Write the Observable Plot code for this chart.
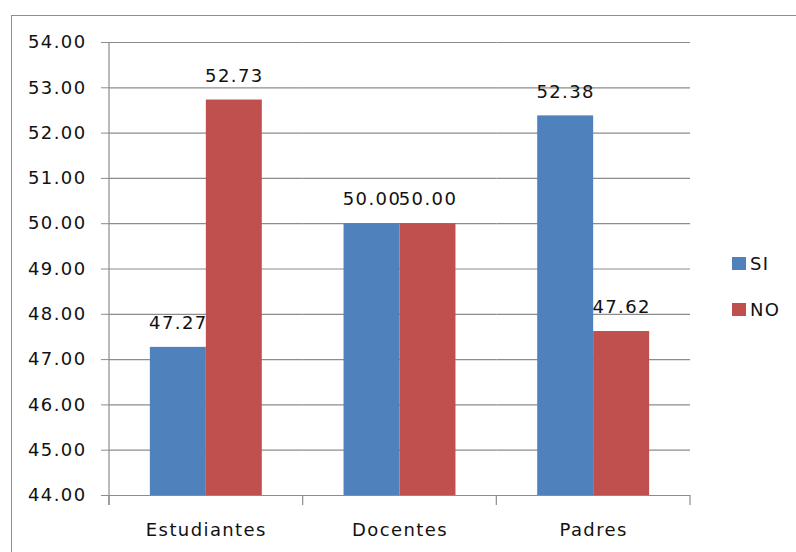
<!DOCTYPE html>
<html>
<head>
<meta charset="utf-8">
<script src="https://cdn.jsdelivr.net/npm/d3@7"></script>
<script src="https://cdn.jsdelivr.net/npm/@observablehq/plot@0.6"></script>
<style>
  html, body { margin: 0; padding: 0; width: 796px; height: 552px; overflow: hidden; background: #fff; }
  #frame { position: absolute; left: 11px; top: 15px; width: 900px; height: 700px; border: 1px solid #8e8e8e; box-sizing: border-box; }
  #chart { position: absolute; left: 0; top: 0; }
  #chart svg text { letter-spacing: 1.4px; }
  .leg { position: absolute; font-family: "DejaVu Sans", sans-serif; font-size: 18px; color: #111; letter-spacing: 1.4px; display: flex; align-items: center; }
  .leg span.sw { display: inline-block; width: 14px; height: 13px; margin-right: 4px; }
</style>
</head>
<body>
<div id="frame"></div>
<div id="chart"></div>
<div id="legend"></div>
<script>
const categories = ["Estudiantes", "Docentes", "Padres"];
const seriesNames = ["SI", "NO"];
const siValues = [47.27, 50.00, 52.38];
const noValues = [52.73, 50.00, 47.62];
const seriesColors = ["#4F81BD", "#C0504D"];
const yTicks = [44, 45, 46, 47, 48, 49, 50, 51, 52, 53, 54];

const data = [];
categories.forEach((c, i) => {
  data.push({category: c, series: "SI", value: siValues[i]});
  data.push({category: c, series: "NO", value: noValues[i]});
});
const yMin = yTicks[0], yMax = yTicks[yTicks.length - 1];
const gridColor = "#8c8c8c";
const textColor = "#111";

const chart = Plot.plot({
  width: 796,
  height: 552,
  marginLeft: 109,
  marginRight: 106,
  marginTop: 42,
  marginBottom: 57,
  style: {fontFamily: "DejaVu Sans, sans-serif", fontSize: "18px", color: textColor, background: "transparent"},
  fx: {domain: categories, paddingInner: 0, paddingOuter: 0, round: false, axis: null, label: null},
  x: {domain: seriesNames, paddingInner: 0, paddingOuter: 0.73, round: false, axis: null, label: null},
  y: {domain: [yMin, yMax], axis: null, label: null},
  color: {domain: seriesNames, range: seriesColors},
  marks: [
    Plot.gridY(yTicks, {stroke: gridColor, strokeOpacity: 1, strokeWidth: 1.2}),
    Plot.barY(data, {fx: "category", x: "series", y1: yMin, y2: "value", fill: "series"}),
    Plot.text(data, {fx: "category", x: "series", y: "value", text: d => d.value.toFixed(2), dy: -24, lineAnchor: "middle", fill: textColor}),
    Plot.axisY(yTicks, {anchor: "left", tickSize: 8, tickPadding: 15, tickFormat: d => d.toFixed(2), stroke: gridColor, fill: textColor, label: null}),
    Plot.axisFx({anchor: "bottom", tickSize: 0, tickPadding: 28, label: null, fill: textColor})
  ]
});
document.getElementById("chart").appendChild(chart);

// axis line and category boundary ticks from the library's own scales
const fx = chart.scale("fx");
const ys = chart.scale("y");
const svg = d3.select(chart);
const g = svg.append("g").attr("stroke", gridColor).attr("stroke-width", 1.2);
const x0 = fx.apply(categories[0]);
const yBase = ys.apply(yMin);
g.append("line").attr("x1", x0).attr("x2", x0).attr("y1", ys.apply(yMax)).attr("y2", yBase + 10);
const bounds = categories.map(c => fx.apply(c)).concat([fx.apply(categories[categories.length - 1]) + fx.bandwidth]);
bounds.forEach(b => g.append("line").attr("x1", b).attr("x2", b).attr("y1", yBase).attr("y2", yBase + 10));

// legend
const legend = document.getElementById("legend");
seriesNames.forEach((s, i) => {
  const d = document.createElement("div");
  d.className = "leg";
  d.style.left = "732px";
  d.style.top = (253 + i * 46) + "px";
  d.innerHTML = `<span class="sw" style="background:${seriesColors[i]}"></span>${s}`;
  legend.appendChild(d);
});
</script>
</body>
</html>
